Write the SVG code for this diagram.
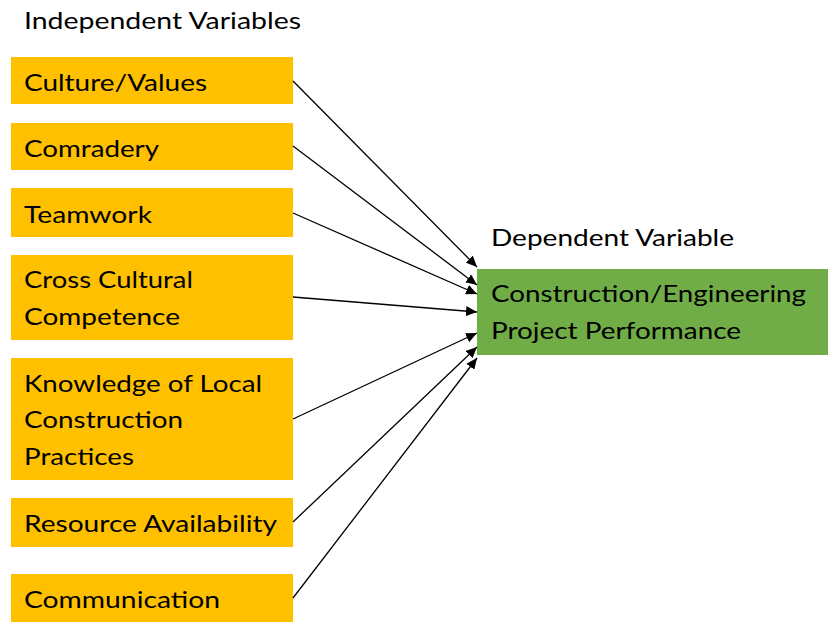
<svg xmlns="http://www.w3.org/2000/svg" width="828" height="622" viewBox="0 0 828 622">
<defs>
<style>
.iv{fill:#FFC000;}
.dv{fill:#70AD47;}
text{font-family:Lato,"Open Sans","Liberation Sans",sans-serif;font-size:24px;fill:#000;}
.c{stroke:#000;stroke-width:1.3;fill:none;marker-end:url(#ah);}
</style>
<marker id="ah" markerUnits="userSpaceOnUse" markerWidth="12" markerHeight="10" refX="11" refY="5" orient="auto">
<path d="M0,0 L11,5 L0,10 Z" fill="#000"/>
</marker>
</defs>
<rect width="828" height="622" fill="#fff"/>
<text x="24" y="29" textLength="277" lengthAdjust="spacingAndGlyphs">Independent Variables</text>
<text x="491" y="246" textLength="243" lengthAdjust="spacingAndGlyphs">Dependent Variable</text>
<g id="n1"><rect class="iv" x="11" y="57" width="282" height="47"/><text x="24" y="91" textLength="183" lengthAdjust="spacingAndGlyphs">Culture/Values</text></g>
<g id="n2"><rect class="iv" x="11" y="123" width="282" height="47"/><text x="24" y="157" textLength="135" lengthAdjust="spacingAndGlyphs">Comradery</text></g>
<g id="n3"><rect class="iv" x="11" y="188" width="282" height="49"/><text x="24" y="223" textLength="128" lengthAdjust="spacingAndGlyphs">Teamwork</text></g>
<g id="n4"><rect class="iv" x="11" y="255" width="282" height="85"/><text x="24" y="288" textLength="169" lengthAdjust="spacingAndGlyphs">Cross Cultural</text><text x="24" y="325" textLength="156" lengthAdjust="spacingAndGlyphs">Competence</text></g>
<g id="n5"><rect class="iv" x="11" y="358" width="282" height="122"/><text x="24" y="392" textLength="238" lengthAdjust="spacingAndGlyphs">Knowledge of Local</text><text x="24" y="428" textLength="159" lengthAdjust="spacingAndGlyphs">Construction</text><text x="24" y="465" textLength="110" lengthAdjust="spacingAndGlyphs">Practices</text></g>
<g id="n6"><rect class="iv" x="11" y="498" width="282" height="49"/><text x="24" y="532" textLength="253" lengthAdjust="spacingAndGlyphs">Resource Availability</text></g>
<g id="n7"><rect class="iv" x="11" y="574" width="282" height="48"/><text x="24" y="608" textLength="196" lengthAdjust="spacingAndGlyphs">Communication</text></g>
<g id="dv"><rect class="dv" x="477" y="269" width="351" height="86"/><text x="491" y="302" textLength="315" lengthAdjust="spacingAndGlyphs">Construction/Engineering</text><text x="491" y="339" textLength="250" lengthAdjust="spacingAndGlyphs">Project Performance</text></g>
<g id="connectors">
<line class="c" x1="293" y1="81" x2="477" y2="267"/>
<line class="c" x1="293" y1="146" x2="477" y2="285"/>
<line class="c" x1="293" y1="213" x2="477" y2="294"/>
<line class="c" x1="293" y1="297" x2="477" y2="312"/>
<line class="c" x1="293" y1="419" x2="477" y2="333"/>
<line class="c" x1="293" y1="522" x2="477" y2="347"/>
<line class="c" x1="293" y1="598" x2="477" y2="358"/>
</g>
</svg>
